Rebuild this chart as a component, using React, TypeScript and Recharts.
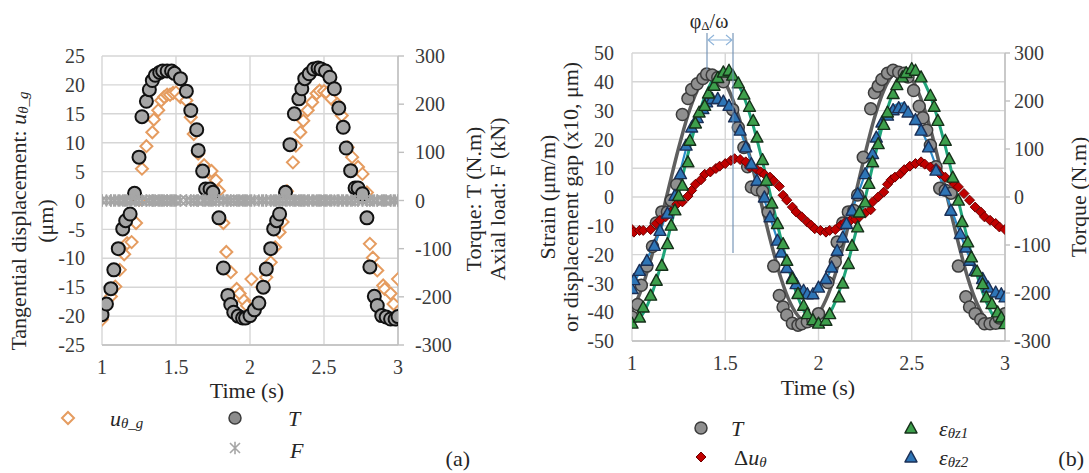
import { ComposedChart, Scatter, Line, XAxis, YAxis, CartesianGrid } from 'recharts';

const SERIF = 'Liberation Serif';

const TIME_TICKS = [1, 1.5, 2, 2.5, 3];
const A_DISP_TICKS = [-25, -20, -15, -10, -5, 0, 5, 10, 15, 20, 25];
const B_STRAIN_TICKS = [-50, -40, -30, -20, -10, 0, 10, 20, 30, 40, 50];
const TORQUE_TICKS = [-300, -200, -100, 0, 100, 200, 300];

// (a) torque T, N.m
const A_T_TIME = [1.00, 1.03, 1.06, 1.08, 1.11, 1.14, 1.16, 1.19, 1.22, 1.25, 1.27, 1.30, 1.32, 1.34, 1.36, 1.39, 1.41, 1.44, 1.47, 1.49, 1.53, 1.57, 1.60, 1.64, 1.65, 1.68, 1.70, 1.73, 1.75, 1.79, 1.82, 1.85, 1.87, 1.89, 1.92, 1.95, 1.97, 2.00, 2.03, 2.06, 2.09, 2.11, 2.14, 2.16, 2.18, 2.20, 2.24, 2.27, 2.30, 2.33, 2.35, 2.37, 2.40, 2.43, 2.46, 2.48, 2.51, 2.54, 2.57, 2.60, 2.63, 2.65, 2.68, 2.71, 2.73, 2.76, 2.79, 2.81, 2.84, 2.86, 2.89, 2.92, 2.95, 2.98, 3.00];
const A_T_TORQUE = [-237, -215, -183, -144, -100, -59, -42, -28, 15, 90, 174, 206, 230, 249, 260, 266, 269, 269, 269, 264, 253, 227, 187, 147, 104, 61, 24, 24, 17, -36, -140, -197, -216, -232, -240, -244, -244, -239, -227, -213, -180, -142, -100, -59, -42, -28, 17, 116, 180, 211, 232, 253, 263, 273, 275, 273, 269, 256, 232, 192, 152, 109, 62, 26, 26, 14, -36, -138, -199, -218, -239, -242, -246, -246, -241];

// (a) tangential displacement u_theta_g, um
const A_U_TIME = [1.00, 1.06, 1.09, 1.12, 1.15, 1.17, 1.20, 1.23, 1.25, 1.27, 1.30, 1.34, 1.35, 1.38, 1.40, 1.42, 1.44, 1.46, 1.48, 1.50, 1.53, 1.57, 1.60, 1.62, 1.65, 1.69, 1.72, 1.74, 1.77, 1.79, 1.82, 1.84, 1.87, 1.91, 1.93, 1.96, 1.98, 2.01, 2.08, 2.11, 2.14, 2.17, 2.20, 2.22, 2.25, 2.29, 2.31, 2.34, 2.36, 2.39, 2.42, 2.45, 2.47, 2.50, 2.52, 2.55, 2.59, 2.62, 2.66, 2.69, 2.73, 2.76, 2.79, 2.81, 2.83, 2.86, 2.90, 2.91, 2.95, 2.97, 3.00];
const A_U_DISP = [-20.6, -16.6, -14.9, -12.0, -9.3, -7.4, -7.2, -3.9, 0.1, 5.5, 9.4, 11.8, 14.0, 15.6, 17.3, 17.9, 18.3, 18.3, 18.6, 18.7, 17.9, 17.3, 14.4, 11.5, 8.1, 6.1, 4.9, 5.1, 3.5, 1.7, -3.9, -8.9, -12.4, -15.3, -16.1, -17.3, -18.2, -13.6, -15.0, -13.3, -10.7, -8.1, -5.5, -3.7, 1.6, 6.6, 9.5, 11.8, 13.8, 15.6, 17.0, 18.5, 19.0, 18.9, 18.6, 17.6, 16.7, 14.7, 9.2, 7.5, 5.8, 4.6, 1.4, -7.5, -9.9, -12.1, -14.7, -15.3, -16.1, -17.9, -13.6];

// (a) axial load F stays at 0 kN over the whole record
const A_F_KN = 0;

// (b) torque T, N.m
const B_T_TIME = [1.00, 1.03, 1.05, 1.08, 1.11, 1.13, 1.16, 1.19, 1.21, 1.24, 1.27, 1.30, 1.32, 1.35, 1.38, 1.40, 1.43, 1.46, 1.49, 1.54, 1.57, 1.60, 1.62, 1.64, 1.67, 1.70, 1.73, 1.76, 1.79, 1.81, 1.83, 1.86, 1.89, 1.91, 1.94, 1.97, 2.00, 2.05, 2.09, 2.10, 2.13, 2.16, 2.19, 2.21, 2.24, 2.28, 2.30, 2.32, 2.34, 2.37, 2.40, 2.43, 2.46, 2.48, 2.51, 2.54, 2.56, 2.58, 2.60, 2.63, 2.65, 2.68, 2.71, 2.75, 2.79, 2.81, 2.84, 2.87, 2.89, 2.92, 2.95, 2.97, 3.00];
const B_T_TORQUE = [-250, -224, -184, -144, -103, -54, -31, -31, -7, 26, 172, 205, 224, 236, 247, 256, 254, 249, 240, 182, 145, 103, 63, 21, 15, 12, -31, -144, -205, -229, -246, -263, -267, -264, -260, -257, -243, -178, -135, -94, -54, -31, -28, 4, 83, 184, 217, 231, 245, 258, 264, 260, 258, 250, 222, 189, 165, 139, 108, 63, 18, 14, 8, -144, -208, -229, -243, -255, -264, -264, -263, -252, -243];

// (b) fitted curves, read every 0.05 s
const B_FIT_TIME = [1.00, 1.05, 1.10, 1.15, 1.20, 1.25, 1.30, 1.35, 1.40, 1.45, 1.50, 1.55, 1.60, 1.65, 1.70, 1.75, 1.80, 1.85, 1.90, 1.95, 2.00, 2.05, 2.10, 2.15, 2.20, 2.25, 2.30, 2.35, 2.40, 2.45, 2.50, 2.55, 2.60, 2.65, 2.70, 2.75, 2.80, 2.85, 2.90, 2.95, 3.00];
const B_T_FIT = [-237, -193, -131, -56, 24, 102, 171, 222, 252, 257, 237, 193, 131, 56, -24, -102, -171, -222, -252, -262, -243, -205, -148, -75, 8, 90, 165, 222, 255, 263, 246, 204, 142, 66, -16, -96, -168, -222, -255, -262, -245];
const B_Z1_FIT = [-44, -41.4, -34.8, -24.7, -12.3, 1.4, 14.9, 27.0, 36.4, 42.3, 44, 41.4, 34.8, 24.7, 12.3, -1.4, -14.9, -27.0, -36.4, -42.3, -44, -41.4, -34.8, -24.7, -12.3, -0.5, 13.5, 26.5, 36.2, 42.5, 44.6, 41.8, 35.0, 24.8, 12.4, -1.3, -14.9, -27.0, -36.4, -42.3, -44];
const B_Z2_FIT = [-31, -25, -19, -12, -3, 7, 19, 27.5, 32.5, 34.5, 32.5, 28, 19.5, 10.5, 1, -9, -18.5, -26.5, -31.5, -33.5, -32, -27.5, -19, -9.5, -1, 8, 18, 27, 31.5, 32.5, 28.5, 23.5, 16, 7, -2, -11, -19.5, -26.5, -31, -33, -34];

// (b) displacement gap, x10 um
const B_DU_TIME = [1.00, 1.01, 1.04, 1.06, 1.10, 1.13, 1.15, 1.18, 1.21, 1.24, 1.27, 1.30, 1.32, 1.34, 1.37, 1.39, 1.42, 1.45, 1.47, 1.50, 1.53, 1.55, 1.58, 1.61, 1.63, 1.67, 1.69, 1.71, 1.74, 1.76, 1.79, 1.81, 1.83, 1.86, 1.88, 1.91, 1.94, 1.96, 1.98, 2.01, 2.04, 2.06, 2.09, 2.12, 2.14, 2.17, 2.20, 2.22, 2.25, 2.28, 2.29, 2.32, 2.35, 2.37, 2.39, 2.41, 2.44, 2.46, 2.49, 2.52, 2.55, 2.57, 2.60, 2.63, 2.65, 2.68, 2.71, 2.73, 2.75, 2.78, 2.81, 2.84, 2.87, 2.89, 2.92, 2.95, 2.97, 3.00];
const B_DU_VAL = [-11.3, -12.2, -11.6, -11.6, -11.3, -9.2, -8.1, -6.9, -5.2, -2.5, -1.7, 0.3, 2.3, 4.4, 6.0, 7.9, 8.7, 9.9, 10.7, 11.6, 12.7, 13.3, 13.0, 12.2, 10.4, 9.5, 8.7, 7.9, 6.9, 5.6, 3.7, 0.6, -1.1, -3.5, -5.2, -6.9, -8.7, -9.8, -11.0, -11.6, -12.2, -11.6, -11.3, -9.8, -9.0, -8.3, -7.8, -6.9, -5.6, -4.4, -1.7, 0, 1.7, 4.4, 6.0, 6.9, 8.1, 9.5, 10.7, 11.6, 12.2, 11.4, 10.4, 9.9, 8.1, 6.9, 5.8, 4.4, 3.5, 1.2, -1.1, -3.5, -5.2, -6.9, -8.1, -9.2, -10.4, -11.3];

// (b) strain gauge 1, um/m
const B_Z1_TIME = [1.00, 1.04, 1.06, 1.10, 1.13, 1.16, 1.19, 1.21, 1.23, 1.25, 1.27, 1.30, 1.31, 1.34, 1.36, 1.39, 1.41, 1.44, 1.46, 1.49, 1.52, 1.54, 1.57, 1.60, 1.63, 1.65, 1.67, 1.70, 1.72, 1.75, 1.78, 1.81, 1.83, 1.86, 1.89, 1.92, 1.94, 1.97, 2.00, 2.04, 2.06, 2.11, 2.13, 2.16, 2.18, 2.21, 2.22, 2.25, 2.27, 2.29, 2.32, 2.35, 2.37, 2.40, 2.42, 2.45, 2.47, 2.50, 2.52, 2.55, 2.60, 2.62, 2.64, 2.68, 2.70, 2.72, 2.75, 2.77, 2.80, 2.82, 2.85, 2.88, 2.90, 2.93, 2.96, 2.98, 3.00];
const B_Z1_VAL = [-43.8, -41.7, -38.2, -34.1, -28.9, -23.7, -16.2, -9.8, -4.5, 0.5, 4.1, 12.2, 19.7, 25.7, 29.5, 31.8, 36.1, 38.8, 41.5, 43.4, 44.0, 42.3, 39.6, 35.7, 31.5, 26.6, 20.8, 13.0, 5.8, -2.1, -9.2, -16.2, -22.0, -28.3, -33.5, -37.6, -40.5, -42.6, -43.8, -42.8, -40.5, -34.7, -29.9, -23.1, -16.8, -10.4, -5.2, -1.7, 4.7, 12.2, 18.5, 25.2, 29.5, 35.9, 39.0, 41.7, 43.2, 44.6, 44.0, 41.7, 35.3, 31.5, 26.6, 19.7, 13.3, 6.9, -1.1, -8.5, -15.6, -20.8, -25.7, -30.1, -34.7, -37.0, -39.9, -41.7, -44.0];

// (b) strain gauge 2, um/m
const B_Z2_TIME = [1.00, 1.01, 1.04, 1.08, 1.12, 1.15, 1.19, 1.23, 1.26, 1.29, 1.32, 1.35, 1.38, 1.40, 1.43, 1.46, 1.49, 1.52, 1.55, 1.58, 1.61, 1.64, 1.67, 1.71, 1.74, 1.78, 1.80, 1.83, 1.86, 1.88, 1.92, 1.94, 1.97, 2.00, 2.04, 2.07, 2.10, 2.13, 2.15, 2.18, 2.21, 2.25, 2.29, 2.31, 2.34, 2.37, 2.40, 2.43, 2.46, 2.48, 2.52, 2.55, 2.59, 2.63, 2.68, 2.71, 2.76, 2.79, 2.81, 2.84, 2.88, 2.91, 2.95, 2.98, 3.00];
const B_Z2_VAL = [-31.8, -28.7, -25.5, -22.0, -16.8, -11.6, -5.6, 0.6, 8.1, 18.0, 24.3, 27.6, 30.7, 33.0, 34.2, 34.2, 33.3, 31.8, 27.8, 23.2, 17.4, 11.6, 5.8, 0, -6.9, -15.0, -19.1, -24.5, -27.8, -30.1, -32.4, -33.6, -33.6, -31.3, -28.3, -24.3, -18.5, -13.9, -9.2, -4.6, 1.2, 8.1, 15.1, 20.8, 26.0, 28.4, 30.3, 31.0, 31.0, 29.5, 26.9, 23.2, 17.4, 9.3, 2.3, -4.6, -12.7, -17.4, -22.0, -25.5, -28.3, -31.3, -33.0, -33.6, -34.7];

const pts = (ts: number[], vs: number[]) => ts.map((t, i) => ({ t, v: vs[i] }));

const tickStyle = { fill: '#3a3a3a', fontSize: 20, fontFamily: SERIF };
const GRID = '#d6d6d6';
const AXIS = '#bfbfbf';

// marker shapes
const dot = (r: number, fill: string, stroke: string, sw: number) => (p: any) => (
  <circle cx={p.cx} cy={p.cy} r={r} fill={fill} stroke={stroke} strokeWidth={sw} />
);
const diamond = (s: number, fill: string, stroke: string, sw: number) => (p: any) => (
  <path
    d={`M${p.cx},${p.cy - s}L${p.cx + s},${p.cy}L${p.cx},${p.cy + s}L${p.cx - s},${p.cy}Z`}
    fill={fill}
    stroke={stroke}
    strokeWidth={sw}
  />
);
const triangle = (w: number, h: number, fill: string, stroke: string) => (p: any) => (
  <path
    d={`M${p.cx},${p.cy - h * 0.55}L${p.cx + w / 2},${p.cy + h * 0.45}L${p.cx - w / 2},${p.cy + h * 0.45}Z`}
    fill={fill}
    stroke={stroke}
    strokeWidth={1.4}
    strokeLinejoin="round"
  />
);
const asterisk = (s: number, stroke: string) => (p: any) => (
  <path
    d={`M${p.cx - s},${p.cy - s}L${p.cx + s},${p.cy + s}M${p.cx - s},${p.cy + s}L${p.cx + s},${p.cy - s}M${p.cx},${p.cy - s * 1.25}L${p.cx},${p.cy + s * 1.25}`}
    stroke={stroke}
    strokeWidth={1.6}
    fill="none"
  />
);

const A_U_SHAPE = diamond(6, '#ffffff', '#e59c60', 2);
const A_T_SHAPE = dot(6.5, '#a6a6a6', '#111111', 2);
const A_F_SHAPE = asterisk(5, '#a6a6a6');
const B_T_SHAPE = dot(6, '#8f8f8f', '#3c3c3c', 1.5);
const B_DU_SHAPE = diamond(5, '#c00000', '#6e0000', 1);
const B_Z1_SHAPE = triangle(12, 11, '#3d9f4c', '#16301a');
const B_Z2_SHAPE = triangle(12, 11, '#2e75b6', '#1b2f55');

function SubText({ x, y, main, sub, upright, size = 22 }: any) {
  return (
    <text x={x} y={y} dominantBaseline="central" fontSize={size} fontFamily={SERIF}>
      {upright ? <tspan>{upright}</tspan> : null}
      <tspan fontStyle="italic">{main}</tspan>
      <tspan fontStyle="italic" fontSize={size * 0.68} dy={5}>
        {sub}
      </tspan>
    </text>
  );
}

function VTitle({ x, y, children }: any) {
  return (
    <text
      transform={`translate(${x},${y}) rotate(-90)`}
      textAnchor="middle"
      dominantBaseline="central"
      fontSize={22}
      fontFamily={SERIF}
    >
      {children}
    </text>
  );
}

export default function App() {
  const aT = pts(A_T_TIME, A_T_TORQUE);
  const aU = pts(A_U_TIME, A_U_DISP);
  const aF = [...A_T_TIME, ...A_U_TIME].map((t) => ({ t, v: A_F_KN }));
  const bT = pts(B_T_TIME, B_T_TORQUE);
  const bTFit = pts(B_FIT_TIME, B_T_FIT);
  const bZ1Fit = pts(B_FIT_TIME, B_Z1_FIT);
  const bZ2Fit = pts(B_FIT_TIME, B_Z2_FIT);
  const bDu = pts(B_DU_TIME, B_DU_VAL);
  const bZ1 = pts(B_Z1_TIME, B_Z1_VAL);
  const bZ2 = pts(B_Z2_TIME, B_Z2_VAL);

  return (
    <div
      style={{
        position: 'absolute',
        left: 0,
        top: 0,
        width: 1089,
        height: 473,
        background: '#ffffff',
        overflow: 'hidden',
        fontFamily: SERIF,
      }}
    >
      {/* panel (a) */}
      <div style={{ position: 'absolute', left: 0, top: 0 }}>
        <ComposedChart width={470} height={400} margin={{ top: 56, right: 0, bottom: 25, left: 0 }}>
          <CartesianGrid yAxisId="left" stroke={GRID} strokeWidth={1.4} />
          <XAxis
            type="number"
            dataKey="t"
            domain={[1, 3]}
            ticks={TIME_TICKS}
            interval={0}
            allowDataOverflow
            height={30}
            tickSize={0}
            tickMargin={15}
            tickLine={false}
            axisLine={{ stroke: AXIS, strokeWidth: 1.4 }}
            tick={tickStyle}
          />
          <YAxis
            yAxisId="left"
            type="number"
            dataKey="v"
            domain={[-25, 25]}
            ticks={A_DISP_TICKS}
            interval={0}
            allowDataOverflow
            width={102}
            tickSize={0}
            tickMargin={17}
            axisLine={false}
            tickLine={false}
            tick={tickStyle}
          />
          <YAxis
            yAxisId="right"
            orientation="right"
            type="number"
            dataKey="v"
            domain={[-300, 300]}
            ticks={TORQUE_TICKS}
            interval={0}
            allowDataOverflow
            width={72}
            tickSize={6}
            tickMargin={11}
            axisLine={{ stroke: AXIS, strokeWidth: 1.4 }}
            tickLine={{ stroke: AXIS, strokeWidth: 1.4 }}
            tick={tickStyle}
          />
          <Scatter data={aU} dataKey="v" yAxisId="left" shape={A_U_SHAPE} isAnimationActive={false} />
          <Scatter data={aT} dataKey="v" yAxisId="right" shape={A_T_SHAPE} isAnimationActive={false} />
          <Scatter data={aF} dataKey="v" yAxisId="right" shape={A_F_SHAPE} isAnimationActive={false} />
        </ComposedChart>
      </div>

      {/* panel (b) */}
      <div style={{ position: 'absolute', left: 540, top: 0 }}>
        <ComposedChart width={549} height={400} margin={{ top: 53, right: 0, bottom: 29, left: 0 }}>
          <CartesianGrid yAxisId="left" stroke={GRID} strokeWidth={1.4} />
          <XAxis
            type="number"
            dataKey="t"
            domain={[1, 3]}
            ticks={TIME_TICKS}
            interval={0}
            allowDataOverflow
            height={30}
            tickSize={0}
            tickMargin={15}
            tickLine={false}
            axisLine={{ stroke: AXIS, strokeWidth: 1.4 }}
            tick={tickStyle}
          />
          <YAxis
            yAxisId="left"
            type="number"
            dataKey="v"
            domain={[-50, 50]}
            ticks={B_STRAIN_TICKS}
            interval={0}
            allowDataOverflow
            width={92}
            tickSize={0}
            tickMargin={18}
            axisLine={false}
            tickLine={false}
            tick={tickStyle}
          />
          <YAxis
            yAxisId="right"
            orientation="right"
            type="number"
            dataKey="v"
            domain={[-300, 300]}
            ticks={TORQUE_TICKS}
            interval={0}
            allowDataOverflow
            width={84}
            tickSize={5}
            tickMargin={4}
            axisLine={{ stroke: AXIS, strokeWidth: 1.4 }}
            tickLine={{ stroke: AXIS, strokeWidth: 1.4 }}
            tick={tickStyle}
          />
          <Line data={bTFit} dataKey="v" yAxisId="right" type="monotone" stroke="#5f5f5f" strokeWidth={3.5} dot={false} isAnimationActive={false} />
          <Line data={bZ2Fit} dataKey="v" yAxisId="left" type="monotone" stroke="#2e8bc9" strokeWidth={2.2} dot={false} isAnimationActive={false} />
          <Line data={bZ1Fit} dataKey="v" yAxisId="left" type="monotone" stroke="#1fa57a" strokeWidth={3} dot={false} isAnimationActive={false} />
          <Scatter data={bT} dataKey="v" yAxisId="right" shape={B_T_SHAPE} isAnimationActive={false} />
          <Scatter data={bDu} dataKey="v" yAxisId="left" shape={B_DU_SHAPE} isAnimationActive={false} />
          <Scatter data={bZ2} dataKey="v" yAxisId="left" shape={B_Z2_SHAPE} isAnimationActive={false} />
          <Scatter data={bZ1} dataKey="v" yAxisId="left" shape={B_Z1_SHAPE} isAnimationActive={false} />
        </ComposedChart>
      </div>

      {/* titles, legends, annotation */}
      <svg
        width={1089}
        height={473}
        style={{ position: 'absolute', left: 0, top: 0, pointerEvents: 'none' }}
        fill="#262626"
      >
        {/* (a) axis titles */}
        <VTitle x={18} y={221}>
          Tangential displacement: <tspan fontStyle="italic">u</tspan>
          <tspan fontStyle="italic" fontSize={15} dy={5}>θ_g</tspan>
        </VTitle>
        <VTitle x={45} y={221}>(μm)</VTitle>
        <VTitle x={473} y={199}>Torque: T (N.m)</VTitle>
        <VTitle x={497} y={199}>Axial load: F (kN)</VTitle>
        <text x={247} y={390} textAnchor="middle" dominantBaseline="central" fontSize={22} fontFamily={SERIF}>
          Time (s)
        </text>

        {/* (a) legend */}
        {A_U_SHAPE({ cx: 68, cy: 418 })}
        <SubText x={110} y={418} main="u" sub="θ_g" />
        {dot(6, '#8c8c8c', '#3c3c3c', 1.5)({ cx: 235, cy: 418 })}
        <text x={288} y={418} dominantBaseline="central" fontSize={22} fontStyle="italic" fontFamily={SERIF}>T</text>
        {A_F_SHAPE({ cx: 235, cy: 448 })}
        <text x={290} y={450} dominantBaseline="central" fontSize={22} fontStyle="italic" fontFamily={SERIF}>F</text>
        <text x={470} y={458} textAnchor="end" dominantBaseline="central" fontSize={22} fontFamily={SERIF}>(a)</text>

        {/* (b) axis titles */}
        <VTitle x={547} y={197}>Strain (μm/m)</VTitle>
        <VTitle x={570} y={197}>or displacement gap (x10, μm)</VTitle>
        <VTitle x={1078} y={197}>Torque (N.m)</VTitle>
        <text x={818} y={387} textAnchor="middle" dominantBaseline="central" fontSize={22} fontFamily={SERIF}>
          Time (s)
        </text>

        {/* (b) phase-lag annotation */}
        <text x={709} y={21} textAnchor="middle" dominantBaseline="central" fontSize={20} fontFamily={SERIF}>
          φ<tspan fontSize={13} dy={4}>Δ</tspan>
          <tspan dy={-4}>/ω</tspan>
        </text>
        <g stroke="#6d8fb3" strokeWidth={1.1} fill="none">
          <path d="M707,33V70M733,33V253" />
          <path d="M708,40H732M714,35L708,40L714,45M726,35L732,40L726,45" stroke="#8fb4d9" />
        </g>

        {/* (b) legend */}
        {B_T_SHAPE({ cx: 701, cy: 428 })}
        <text x={731} y={428} dominantBaseline="central" fontSize={22} fontStyle="italic" fontFamily={SERIF}>T</text>
        {B_DU_SHAPE({ cx: 701, cy: 457 })}
        <SubText x={734} y={457} upright="Δ" main="u" sub="θ" />
        {B_Z1_SHAPE({ cx: 911, cy: 428 })}
        <SubText x={939} y={428} main="ε" sub="θz1" />
        {B_Z2_SHAPE({ cx: 911, cy: 457 })}
        <SubText x={939} y={457} main="ε" sub="θz2" />
        <text x={1084} y={458} textAnchor="end" dominantBaseline="central" fontSize={22} fontFamily={SERIF}>(b)</text>
      </svg>
    </div>
  );
}
